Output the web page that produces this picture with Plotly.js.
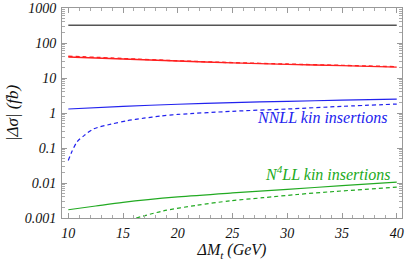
<!DOCTYPE html>
<html>
<head>
<meta charset="utf-8">
<script src="https://cdn.plot.ly/plotly-3.0.1.min.js"></script>
<style>html,body{margin:0;padding:0;background:#fff;}#chart{width:407px;height:263px;}</style>
</head>
<body>
<div id="chart"></div>
<script>
// Data
const xFull = [10, 15, 20, 25, 30, 35, 40];
const blackY = [320, 320, 320, 320, 320, 320, 320];
const redSolidY = [40, 35, 30.5, 27, 24.5, 22.5, 20.5];
const redDashY = [42, 36, 31, 27.5, 25, 23, 21];
const blueSolidY = [1.3, 1.55, 1.78, 1.98, 2.15, 2.32, 2.48];
const blueDashX = [10, 10.33, 10.8, 11.5, 12.3, 13.9, 15.35, 16.9, 18.4, 20, 25, 30, 35, 40];
const blueDashY = [0.044, 0.079, 0.15, 0.235, 0.35, 0.48, 0.6, 0.71, 0.82, 0.91, 1.12, 1.3, 1.55, 1.8];
const greenSolidX = [10, 12.5, 15, 20, 25, 30, 35, 40];
const greenSolidY = [0.00172, 0.0022, 0.0028, 0.0040, 0.0052, 0.0066, 0.0084, 0.0106];
const greenDashX = [16.2, 18.7, 21.7, 24.8, 27.8, 30.9, 33.9, 40];
const greenDashY = [0.001, 0.0016, 0.0023, 0.0031, 0.0038, 0.0047, 0.0056, 0.0076];
const yTickVals = [0.001, 0.01, 0.1, 1, 10, 100, 1000];
const yTickText = ["0.001", "0.01", "0.1", "1", "10", "100", "1000"];
const xTickVals = [10, 15, 20, 25, 30, 35, 40];
const labelNNLL = "NNLL kin insertions";
const labelN4LL = "N<sup>4</sup>LL kin insertions";

const serif = "Liberation Serif";
const mk = (x, y, color, dash, w) => ({
  x: x, y: y, type: 'scatter', mode: 'lines',
  line: {color: color, width: w || 1.2, dash: dash, shape: 'spline', smoothing: 0.8},
  hoverinfo: 'skip', showlegend: false
});

const data = [
  mk(xFull, blackY, '#555555', 'solid', 1.4),
  mk(xFull, redSolidY, '#ff2020', 'solid', 1.4),
  mk(xFull, redDashY, '#ff2020', '4px,3px', 1.4),
  mk(xFull, blueSolidY, '#2222ee', 'solid', 1.2),
  mk(blueDashX, blueDashY, '#2222ee', '4px,3px', 1.2),
  mk(greenSolidX, greenSolidY, '#22aa22', 'solid', 1.2),
  mk(greenDashX, greenDashY, '#22aa22', '4px,3px', 1.2)
];

const axisCommon = {
  showgrid: false, zeroline: false, showline: true, linecolor: '#999999', linewidth: 1,
  mirror: 'allticks', ticks: 'inside', tickcolor: '#999999', ticklen: 5, tickwidth: 1,
  tickfont: {family: serif, size: 14, color: '#111', style: 'italic'}
};

const minorY = [];
for (let e = -3; e < 3; e++) { for (let k = 2; k <= 9; k++) { minorY.push(k * Math.pow(10, e)); } }

const layout = {
  width: 407, height: 263,
  margin: {l: 62, r: 5, t: 8, b: 45},
  paper_bgcolor: '#fff', plot_bgcolor: '#fff',
  font: {family: serif},
  xaxis: Object.assign({}, axisCommon, {
    range: [9.425, 40.48], tickvals: xTickVals, ticklabelstandoff: 2,
    minor: {dtick: 1, tick0: 10, ticks: 'inside', ticklen: 3, tickcolor: '#aaaaaa'},
    title: {text: 'ΔM<sub>t</sub> (GeV)', font: {family: serif, size: 16, color: '#111', style: 'italic'}, standoff: 4}
  }),
  yaxis: Object.assign({}, axisCommon, {
    type: 'log', range: [-3, 3], tickvals: yTickVals, ticktext: yTickText, ticklabelstandoff: 2,
    minor: {ticks: 'inside', ticklen: 3, tickcolor: '#aaaaaa', tickvals: minorY},
    title: {text: '|Δσ| (fb)', font: {family: serif, size: 17, color: '#111', style: 'italic'}, standoff: 1}
  }),
  annotations: [
    {x: 39.4, y: Math.log10(0.72), xref: 'x', yref: 'y', text: labelNNLL, showarrow: false, xanchor: 'right', yanchor: 'middle',
     font: {family: serif, size: 16, color: '#2222ee', style: 'italic'}},
    {x: 39.6, y: Math.log10(0.019), xref: 'x', yref: 'y', text: labelN4LL, showarrow: false, xanchor: 'right', yanchor: 'middle',
     font: {family: serif, size: 16, color: '#22aa22', style: 'italic'}}
  ]
};

Plotly.newPlot('chart', data, layout, {staticPlot: true, displayModeBar: false});
</script>
</body>
</html>
